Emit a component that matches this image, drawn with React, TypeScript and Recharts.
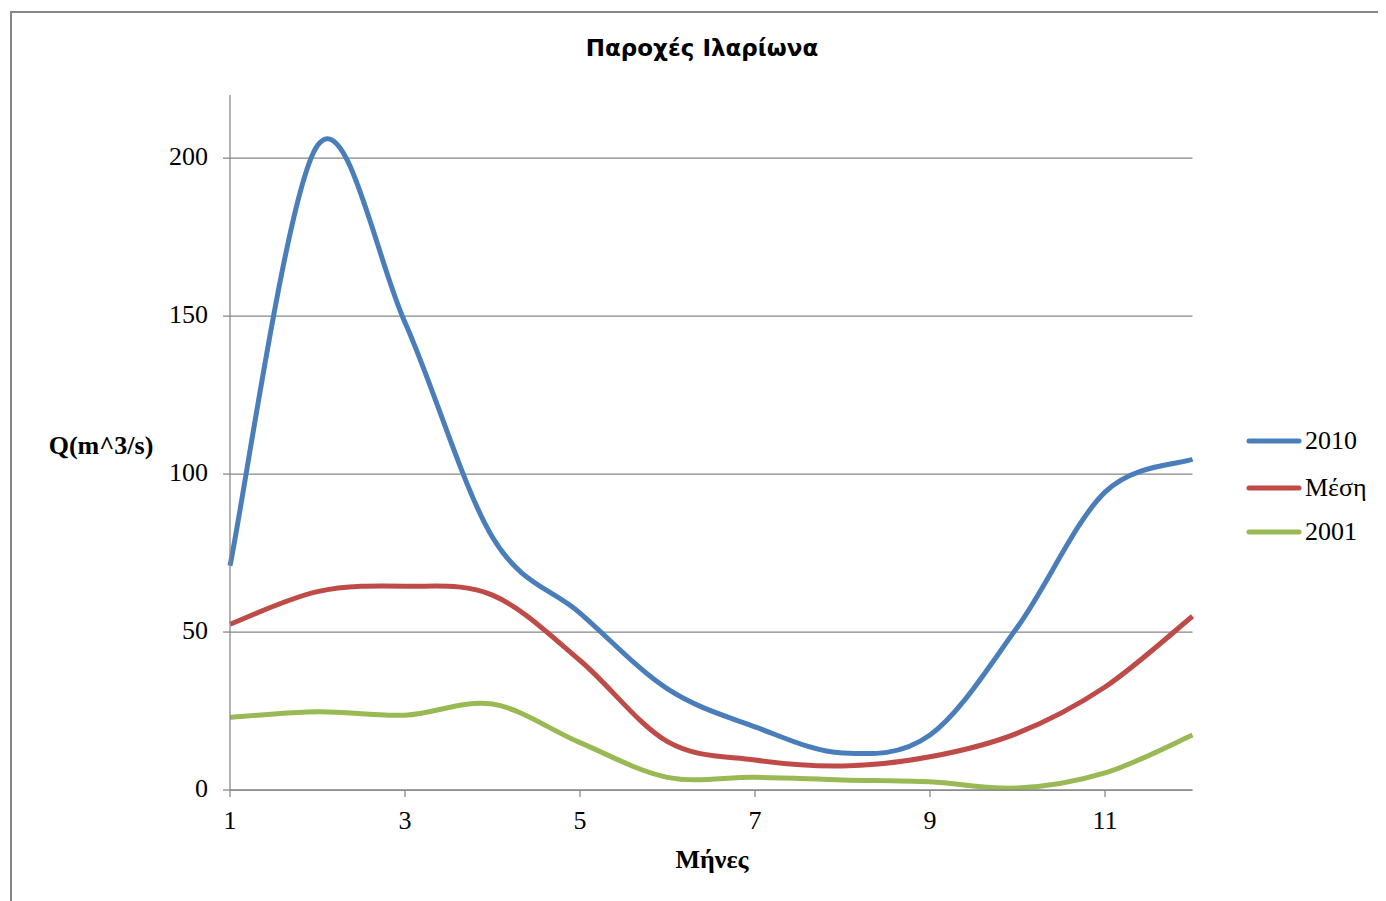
import { LineChart, Line, XAxis, YAxis, CartesianGrid } from "recharts";

// Monthly discharge at Ilarion, Q in m^3/s
const months = [1, 2, 3, 4, 5, 6, 7, 8, 9, 10, 11, 12];
const q2010 = [71, 204, 148, 80, 56, 32, 20, 11.7, 17.4, 51.6, 94.3, 104.7];
const qMean = [52.5, 62.8, 64.5, 61.7, 41, 15.3, 9.5, 7.6, 10.5, 18, 32.6, 55];
const q2001 = [23, 24.8, 23.7, 27.2, 15, 4, 4, 3.2, 2.6, 0.6, 5.4, 17.4];

const xTicks = [1, 3, 5, 7, 9, 11];
const yTicks = [0, 50, 100, 150, 200];
const yMax = 220;

const series = [
  { key: "y2010", name: "2010", color: "#4A7EBB" },
  { key: "mean", name: "Μέση", color: "#BE4B48" },
  { key: "y2001", name: "2001", color: "#98B954" },
];

const data = months.map((m, i) => ({
  month: m,
  y2010: q2010[i],
  mean: qMean[i],
  y2001: q2001[i],
}));

const W = 1378;
const H = 893;
const AXIS = "#868686";
const SERIF = "'Liberation Serif', 'Times New Roman', serif";

// Catmull-Rom style smoothing (the same look as office "smoothed line")
function smoothCurve(context: any) {
  let pts: number[][] = [];
  return {
    areaStart() {},
    areaEnd() {},
    lineStart() {
      pts = [];
    },
    point(x: number, y: number) {
      pts.push([+x, +y]);
    },
    lineEnd() {
      const n = pts.length;
      if (!n) return;
      context.moveTo(pts[0][0], pts[0][1]);
      for (let i = 0; i < n - 1; i++) {
        const p0 = pts[i - 1] || pts[i];
        const p1 = pts[i];
        const p2 = pts[i + 1];
        const p3 = pts[i + 2] || p2;
        context.bezierCurveTo(
          p1[0] + (p2[0] - p0[0]) / 6,
          p1[1] + (p2[1] - p0[1]) / 6,
          p2[0] - (p3[0] - p1[0]) / 6,
          p2[1] - (p3[1] - p1[1]) / 6,
          p2[0],
          p2[1]
        );
      }
    },
  };
}

// gridlines only at the labelled values, not at the top of the axis
function gridRows(args: any) {
  const off = args && args.offset;
  const top = off && typeof off.top === "number" ? off.top : 87;
  const h = off && typeof off.height === "number" ? off.height : 695;
  return yTicks.map((t) => top + h * (1 - t / yMax));
}

export default function App() {
  const tickStyle = { fill: "#000", fontSize: 26, fontFamily: SERIF };
  const legendY = [433, 480, 524];

  return (
    <div style={{ position: "relative", width: W, height: H, overflow: "hidden", background: "#fff" }}>
      <LineChart
        width={W}
        height={H}
        data={data}
        margin={{ top: 87, right: 193.5, left: 162, bottom: 71 }}
      >
        <CartesianGrid
          vertical={false}
          stroke={AXIS}
          strokeWidth={1.25}
          horizontalCoordinatesGenerator={gridRows}
        />
        <XAxis
          dataKey="month"
          type="number"
          domain={[1, 12]}
          ticks={xTicks}
          height={40}
          stroke={AXIS}
          strokeWidth={1.25}
          tickSize={7}
          tickMargin={14}
          tick={tickStyle}
        />
        <YAxis
          type="number"
          domain={[0, yMax]}
          ticks={yTicks}
          width={60}
          stroke={AXIS}
          strokeWidth={1.25}
          tickSize={7}
          tickMargin={15}
          tick={{ ...tickStyle, dy: -2 }}
        />
        {series.map((s) => (
          <Line
            key={s.key}
            dataKey={s.key}
            name={s.name}
            type={smoothCurve as any}
            stroke={s.color}
            strokeWidth={5}
            dot={false}
            activeDot={false}
            isAnimationActive={false}
          />
        ))}
      </LineChart>

      <svg
        width={W}
        height={H}
        style={{ position: "absolute", left: 0, top: 0, pointerEvents: "none" }}
      >
        <rect x={3} y={4} width={W + 20} height={H + 20} fill="none" stroke={AXIS} strokeWidth={2} />
        <text
          x={694}
          y={48}
          textAnchor="middle"
          fontFamily="'DejaVu Sans', sans-serif"
          fontWeight={700}
          fontSize={23}
        >
          Παροχές Ιλαρίωνα
        </text>
        <text x={93} y={446} textAnchor="middle" fontFamily={SERIF} fontWeight={700} fontSize={26}>
          Q(m^3/s)
        </text>
        <text x={704} y={860} textAnchor="middle" fontFamily={SERIF} fontWeight={700} fontSize={26}>
          Μήνες
        </text>
        {series.map((s, i) => (
          <g key={s.key}>
            <line
              x1={1241}
              x2={1291}
              y1={legendY[i]}
              y2={legendY[i]}
              stroke={s.color}
              strokeWidth={5}
              strokeLinecap="round"
            />
            <text x={1297} y={legendY[i] + 8} fontFamily={SERIF} fontSize={26}>
              {s.name}
            </text>
          </g>
        ))}
      </svg>
    </div>
  );
}
